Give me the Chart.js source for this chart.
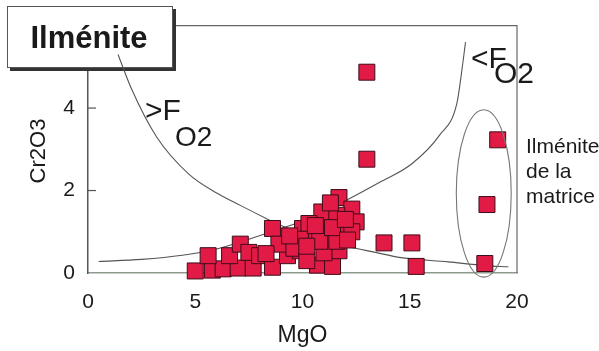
<!DOCTYPE html>
<html>
<head>
<meta charset="utf-8">
<script src="https://cdn.jsdelivr.net/npm/chart.js@4.4.1/dist/chart.umd.min.js"></script>
<style>
  html, body { margin: 0; padding: 0; background: #fff; }
  canvas { display: block; }
</style>
</head>
<body>
<canvas id="chart" width="599" height="351"></canvas>
<script>
// Ilmenite analyses, MgO (x) against Cr2O3 (y)
const mgo = [5.0, 5.8, 6.3, 7.0, 7.7, 5.6, 6.6, 7.1, 7.5, 8.0,
             8.6, 8.6, 9.3, 9.9, 10.7, 11.4, 11.7, 11.0, 10.0, 10.5,
             11.2, 11.9, 11.1, 10.9, 11.7, 12.3, 12.5, 12.3, 11.6, 10.3,
             8.9, 8.3, 9.9, 10.8, 11.6, 9.6, 10.2,
             10.6, 11.4, 12.0, 10.2, 9.4, 12.1, 11.3,
             13.0, 13.0, 13.8, 15.1, 15.3, 19.1, 18.6, 18.5];
const cr2o3 = [0.05, 0.07, 0.10, 0.12, 0.12, 0.42, 0.42, 0.70, 0.50, 0.42,
               1.08, 0.14, 0.42, 0.54, 0.19, 0.16, 0.54, 0.49, 1.08, 0.94,
               0.84, 0.94, 1.24, 1.48, 1.83, 1.55, 1.24, 1.00, 1.40, 1.20,
               0.70, 0.47, 0.82, 0.77, 0.77, 0.60, 0.30,
               1.15, 1.10, 1.30, 0.65, 0.90, 0.80, 1.70,
               4.87, 2.76, 0.73, 0.73, 0.16, 3.23, 1.66, 0.23];

// the two fO2 curves
const descX = [1.4, 2.0, 3.2, 4.7, 6.0, 7.1, 8.4, 9.0, 10.5, 12.2, 13.4, 14.5, 16.8, 18.5, 19.6];
const descY = [5.3, 4.5, 3.3, 2.4, 1.94, 1.64, 1.3, 1.15, 0.88, 0.63, 0.5, 0.38, 0.27, 0.18, 0.15];
const riseX = [0.5, 2.5, 4.4, 6.0, 7.5, 9.0, 10.5, 12.0, 13.6, 15.1, 16.4, 17.2, 17.4, 17.6];
const riseY = [0.28, 0.33, 0.43, 0.58, 0.82, 1.08, 1.35, 1.75, 2.2, 2.65, 3.35, 4.12, 4.8, 5.6];

// ellipse round the matrix ilmenites (centre and half axes, data units)
const ellipseCentre = [18.45, 1.93];
const ellipseRadii = [1.28, 2.03];

const xTickValues = [0, 5, 10, 15, 20];
const yTickValues = [0, 2, 4];

const FONT = 'Liberation Sans, Arial, sans-serif';
const INK = '#1a1a1a';

const decor = {
    id: 'decor',
    beforeDatasetsDraw(chart) {
        const ctx = chart.ctx;
        const a = chart.chartArea;
        const y = chart.scales.y;
        ctx.save();
        // top and right frame
        ctx.strokeStyle = '#666';
        ctx.lineWidth = 1.2;
        ctx.beginPath();
        ctx.moveTo(a.left, a.top);
        ctx.lineTo(a.right, a.top);
        ctx.lineTo(a.right, a.bottom);
        ctx.stroke();
        // short inward ticks on the y axis
        ctx.strokeStyle = '#555';
        yTickValues.filter(v => v > 0).forEach(v => {
            const py = y.getPixelForValue(v);
            ctx.beginPath();
            ctx.moveTo(a.left, py);
            ctx.lineTo(a.left + 8, py);
            ctx.stroke();
        });
        // title box with its shadow
        ctx.fillStyle = '#333';
        ctx.fillRect(10, 9, 166, 62);
        ctx.fillStyle = '#fff';
        ctx.fillRect(7, 6, 166, 62);
        ctx.strokeStyle = '#555';
        ctx.lineWidth = 1;
        ctx.strokeRect(7.5, 6.5, 165, 61);
        ctx.fillStyle = INK;
        ctx.font = 'bold 31px ' + FONT;
        ctx.textAlign = 'center';
        ctx.textBaseline = 'alphabetic';
        ctx.fillText('Ilménite', 89, 48);
        ctx.restore();
    },
    afterDatasetsDraw(chart) {
        const ctx = chart.ctx;
        const x = chart.scales.x;
        const y = chart.scales.y;
        ctx.save();
        // ellipse
        const cx = x.getPixelForValue(ellipseCentre[0]);
        const cy = y.getPixelForValue(ellipseCentre[1]);
        const rx = x.getPixelForValue(ellipseCentre[0] + ellipseRadii[0]) - cx;
        const ry = cy - y.getPixelForValue(ellipseCentre[1] + ellipseRadii[1]);
        ctx.strokeStyle = '#777';
        ctx.lineWidth = 1.1;
        ctx.beginPath();
        ctx.ellipse(cx, cy, rx, ry, 0, 0, Math.PI * 2);
        ctx.stroke();

        ctx.fillStyle = INK;
        ctx.textAlign = 'left';
        ctx.textBaseline = 'alphabetic';
        ctx.font = '30px ' + FONT;
        ctx.fillText('>F', 145, 120);
        ctx.font = '28px ' + FONT;
        ctx.fillText('O2', 175, 146);
        ctx.font = '30px ' + FONT;
        ctx.fillText('<F', 471, 68);
        ctx.fillText('O2', 494, 83);

        ctx.font = '21px ' + FONT;
        ctx.fillText('Ilménite', 526, 153);
        ctx.fillText('de la', 526, 178);
        ctx.fillText('matrice', 526, 203);

        // y axis title
        ctx.font = '22px ' + FONT;
        ctx.textAlign = 'center';
        ctx.textBaseline = 'middle';
        ctx.translate(39, 151);
        ctx.rotate(-Math.PI / 2);
        ctx.fillText('Cr2O3', 0, 0);
        ctx.restore();
    }
};

new Chart(document.getElementById('chart'), {
    type: 'scatter',
    data: {
        datasets: [{
            data: mgo.map((v, i) => ({ x: v, y: cr2o3[i] })),
            pointStyle: 'rect',
            pointRadius: 11.3,
            backgroundColor: '#e11b45',
            borderColor: '#3e0d1a',
            borderWidth: 1,
            clip: false,
        }, {
            data: descX.map((v, i) => ({ x: v, y: descY[i] })),
            showLine: true,
            pointRadius: 0,
            borderColor: '#555',
            borderWidth: 1.1,
            cubicInterpolationMode: 'monotone',
        }, {
            data: riseX.map((v, i) => ({ x: v, y: riseY[i] })),
            showLine: true,
            pointRadius: 0,
            borderColor: '#555',
            borderWidth: 1.1,
            cubicInterpolationMode: 'monotone',
        }],
    },
    options: {
        responsive: false,
        animation: false,
        events: [],
        layout: { padding: { left: 0, top: 15, right: 82, bottom: 0 } },
        plugins: { legend: { display: false }, tooltip: { enabled: false } },
        scales: {
            x: {
                type: 'linear', min: 0, max: 20,
                afterBuildTicks: s => { s.ticks = xTickValues.map(v => ({ value: v })); },
                afterFit: s => { s.height = 78; },
                grid: { display: false, drawTicks: false },
                border: { display: true, color: '#8d9a8d', width: 1.5 },
                ticks: { padding: 17, color: INK, font: { family: FONT, size: 21 } },
                title: {
                    display: true, text: 'MgO', color: INK,
                    font: { family: FONT, size: 23 },
                    padding: { top: 0, bottom: 2 },
                },
            },
            y: {
                type: 'linear', min: 0, max: 6,
                afterBuildTicks: s => { s.ticks = yTickValues.map(v => ({ value: v })); },
                afterFit: s => { s.width = 88; },
                grid: { display: false, drawTicks: false },
                border: { display: true, color: '#555', width: 1.5 },
                ticks: { padding: 13, color: INK, font: { family: FONT, size: 21 } },
            },
        },
    },
    plugins: [decor],
});
</script>
</body>
</html>
